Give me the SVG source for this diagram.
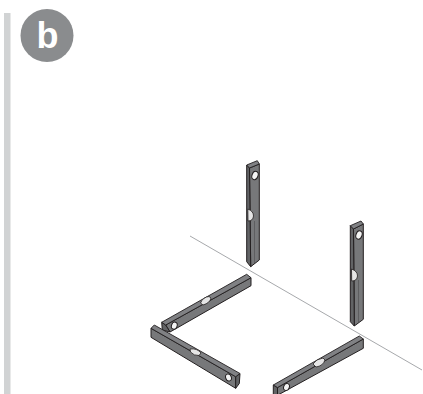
<svg xmlns="http://www.w3.org/2000/svg" width="423" height="394" viewBox="0 0 423 394">
<style>
.face{fill:#77787a;stroke:#231f20;stroke-width:1;stroke-linejoin:round}
.top{fill:#808184;stroke:#231f20;stroke-width:.9;stroke-linejoin:round}
.dark{fill:#626365;stroke:#231f20;stroke-width:1;stroke-linejoin:round}
.hole{fill:#f4f4f4;stroke:#231f20;stroke-width:1}
.bub{fill:#e6e6e6;stroke:#231f20;stroke-width:.8}
</style>
<rect x="4" y="13" width="6.5" height="381" fill="#d1d3d4"/>
<g id="badge"><circle cx="47" cy="35.5" r="26.5" fill="#8a8c8e"/>
<text x="47.5" y="48" text-anchor="middle" font-family="'Liberation Sans',Arial,sans-serif" font-weight="700" font-size="36" fill="#fff">b</text></g>
<line id="guide" x1="190" y1="236" x2="422" y2="370" stroke="#a7a9ac" stroke-width="1"/>
<g id="level-back-left">
<polygon class="face" points="249.5,168 259.3,164 259.3,260 250.7,266.7"/>
<polygon class="dark" points="246.7,165 249.5,168 250.7,266.7 246.7,261.7"/>
<polygon class="top" points="246.7,165 257.3,160.7 259.3,164 249.5,168"/>
<line x1="254.5" y1="221" x2="254.5" y2="263" stroke="#4d4d4f" stroke-width=".6"/>
<ellipse class="hole" cx="255" cy="175.5" rx="3" ry="4.2" transform="rotate(20 255 175.5)"/>
<path class="bub" d="M247.8 209 Q253.5 211 253.5 216 Q253 221 248 221Z"/>
</g>
<g id="level-back-right">
<polygon class="face" points="353.5,229 363.3,224 363.3,319.3 354.3,326"/>
<polygon class="dark" points="350.3,225.7 353.5,229 354.3,326 350.3,321.7"/>
<polygon class="top" points="350.3,225.7 361,221 363.3,224 353.5,229"/>
<line x1="358.5" y1="280" x2="358.5" y2="322" stroke="#4d4d4f" stroke-width=".6"/>
<ellipse class="hole" cx="359" cy="235" rx="3" ry="4.2" transform="rotate(20 359 235)"/>
<path class="bub" d="M351.5 269 Q357.5 271 357.5 276 Q357 281 351.7 281Z"/>
</g>
<g id="level-left">
<polygon class="face" points="165.7,325 251,277.7 251,285.7 170,332"/>
<polygon class="dark" points="161.7,322.3 165.7,325 170,332 162.3,330"/>
<polygon class="top" points="161.7,322.3 246.7,274.3 251,277.7 165.7,325"/>
<ellipse class="hole" cx="174.3" cy="325.7" rx="2.8" ry="3.6" transform="rotate(20 174.3 325.7)"/>
<path class="bub" d="M200.5 303 Q203 297 209 296.5 L211 298 Q210 303 203 305Z"/>
</g>
<g id="level-front">
<polygon class="face" points="151,328.3 235.7,376.7 235.7,388.3 151,337.3"/>
<polygon class="dark" points="235.7,376.7 240,373.5 239.3,383.5 235.7,388.3"/>
<polygon class="top" points="151,328.3 154.3,325 240,373.5 235.7,376.7"/>
<ellipse class="hole" cx="228.5" cy="377.5" rx="2.8" ry="3.6" transform="rotate(-20 228.5 377.5)"/>
<path class="bub" d="M190 349 Q197 348 201 353 L199 355.5 Q194 356 190.5 352Z"/>
</g>
<g id="level-right">
<polygon class="face" points="277.5,387.5 363.3,339 363.3,348.3 278,395 277.5,395"/>
<polygon class="dark" points="273.3,385 277.5,387.5 277.5,395 273.3,395"/>
<polygon class="top" points="273.3,385 359.3,336 363.3,339 277.5,387.5"/>
<ellipse class="hole" cx="286.5" cy="387" rx="2.8" ry="3.6" transform="rotate(20 286.5 387)"/>
<path class="bub" d="M313 364 Q316 359 323 358 L325 360 Q323 366 316 367Z"/>
</g>
</svg>
